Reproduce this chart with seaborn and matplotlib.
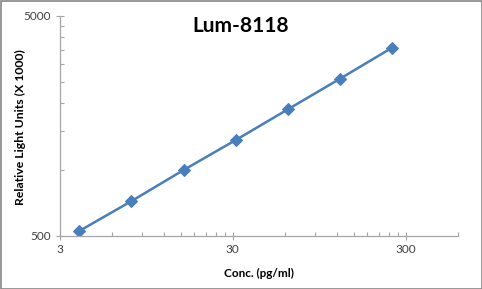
import matplotlib
matplotlib.use("Agg")
import matplotlib.pyplot as plt
import matplotlib.ticker as mticker
from matplotlib.patches import Rectangle
import seaborn as sns
import pandas as pd

conc = [3.90625, 7.8125, 15.625, 31.25, 62.5, 125, 250]
rlu = [527, 720, 996, 1362, 1877, 2584, 3573]
x_ticks = [3, 30, 300]
y_ticks = [500, 5000]

sns.set_theme(style="white")
plt.rcParams['font.family'] = ['Lato', 'DejaVu Sans']

fig = plt.figure(figsize=(4.82, 2.89), dpi=100)
ax = fig.add_axes([59.5/482, 1-236/289, (458-59.5)/482, (236-15.5)/289])

df = pd.DataFrame({"conc": conc, "rlu": rlu})
sns.lineplot(data=df, x="conc", y="rlu", ax=ax, color="#4A7EBB", linewidth=1.8,
             marker="D", markersize=6.5, markeredgecolor="#4A7EBB")

ax.set_xscale("log")
ax.set_yscale("log")
ax.set_xlim(3, 600)
ax.set_ylim(500, 5000)

ax.xaxis.set_major_locator(mticker.FixedLocator(x_ticks))
ax.xaxis.set_major_formatter(mticker.FixedFormatter([str(v) for v in x_ticks]))
ax.xaxis.set_minor_locator(mticker.FixedLocator([3*k for k in range(2, 10)] + [30*k for k in range(2, 10)] + [600]))
ax.xaxis.set_minor_formatter(mticker.NullFormatter())
ax.yaxis.set_major_locator(mticker.FixedLocator(y_ticks))
ax.yaxis.set_major_formatter(mticker.FixedFormatter([str(v) for v in y_ticks]))
ax.yaxis.set_minor_locator(mticker.FixedLocator([500*k for k in range(2, 10)]))
ax.yaxis.set_minor_formatter(mticker.NullFormatter())

for s in ["top", "right"]:
    ax.spines[s].set_visible(False)
for s in ["left", "bottom"]:
    ax.spines[s].set_color("#A6A6A6")
    ax.spines[s].set_linewidth(0.9)

ax.tick_params(which="major", direction="inout", length=6, width=0.8, color="#A6A6A6",
               labelsize=8.5, labelcolor="#404040", pad=3, left=True, bottom=True)
ax.tick_params(which="minor", direction="in", length=3, width=0.8, color="#A6A6A6",
               left=True, bottom=True)

ax.set_xlabel("Conc. (pg/ml)", fontsize=8.5, fontweight="bold", color="black")
ax.xaxis.set_label_coords((259-59.5)/(458-59.5), -(273-236)/(236-15.5))
ax.set_ylabel("Relative Light Units (X 1000)", fontsize=8.8, fontweight="bold", color="black")
ax.yaxis.set_label_coords(-(59.5-20)/(458-59.5), (236-127)/(236-15.5))
ax.yaxis.label.set_va("center")
ax.xaxis.label.set_va("center")

fig.text(241/482, 1-26/289, "Lum-8118", ha="center", va="center", fontsize=15,
         fontweight="bold", color="black")

fig.patches.append(Rectangle((0.5/482, 0.5/289), 1-1/482, 1-1/289, transform=fig.transFigure,
                             fill=False, edgecolor="#868686", linewidth=1.2))

fig.savefig("out.png", dpi=100)
